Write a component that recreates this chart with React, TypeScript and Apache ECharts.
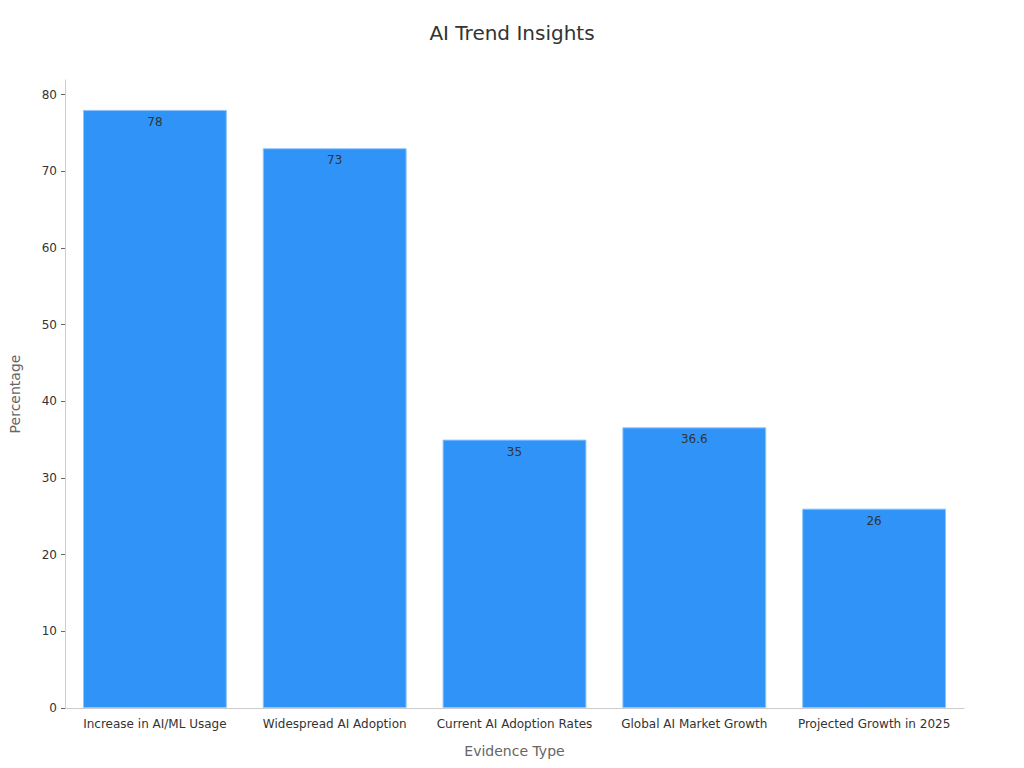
import React, { useEffect, useRef } from 'react';
import * as echarts from 'echarts';

const categories = [
  'Increase in AI/ML Usage',
  'Widespread AI Adoption',
  'Current AI Adoption Rates',
  'Global AI Market Growth',
  'Projected Growth in 2025',
];
const percentages = [78, 73, 35, 36.6, 26];
const yTicks = [0, 10, 20, 30, 40, 50, 60, 70, 80];

const FONT = '"DejaVu Sans", Verdana, sans-serif';

export default function App() {
  const chartRef = useRef<HTMLDivElement>(null);

  useEffect(() => {
    if (!chartRef.current) return;
    const chart = echarts.init(chartRef.current, null, { renderer: 'svg' });

    const option: echarts.EChartsOption = {
      animation: false,
      backgroundColor: '#ffffff',
      textStyle: { fontFamily: FONT },
      title: {
        text: 'AI Trend Insights',
        left: 'center',
        top: 18,
        textStyle: { color: '#333', fontSize: 20, fontWeight: 'normal', fontFamily: FONT },
      },
      grid: { left: 59, right: 60, top: 80, bottom: 60 },
      xAxis: {
        type: 'category',
        data: categories,
        name: 'Evidence Type',
        nameLocation: 'middle',
        nameGap: 36,
        nameTextStyle: { color: '#666', fontSize: 14, fontFamily: FONT },
        axisLine: { lineStyle: { color: '#ccc' } },
        axisTick: { alignWithLabel: true, length: 4, lineStyle: { color: '#666' } },
        axisLabel: { color: '#333', fontSize: 12, fontFamily: FONT, interval: 0, margin: 10 },
      },
      yAxis: {
        type: 'value',
        min: 0,
        max: 81.9,
        name: 'Percentage',
        nameLocation: 'middle',
        nameGap: 43,
        nameTextStyle: { color: '#666', fontSize: 14, fontFamily: FONT },
        axisLine: { show: true, lineStyle: { color: '#ccc' } },
        axisTick: { show: true, length: 4, customValues: yTicks, lineStyle: { color: '#666' } },
        axisLabel: { color: '#333', fontSize: 12, fontFamily: FONT, customValues: yTicks },
        splitLine: { show: false },
      },
      series: [
        {
          type: 'bar',
          data: percentages,
          barWidth: '80%',
          itemStyle: { color: '#2f93f8', borderColor: '#8fc5fa', borderWidth: 1 },
          label: {
            show: true,
            position: 'insideTop',
            distance: 6,
            color: '#333',
            fontSize: 12,
            fontFamily: FONT,
          },
        },
      ],
    };

    chart.setOption(option);
    return () => chart.dispose();
  }, []);

  return <div ref={chartRef} style={{ width: 1024, height: 768, margin: -8 }} />;
}
